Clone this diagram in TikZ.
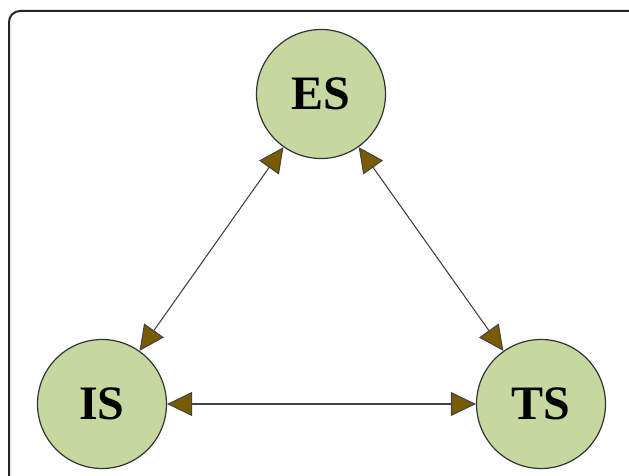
\documentclass[tikz,border=0pt]{standalone}
\usepackage{fontspec}
\setmainfont{Liberation Serif}
\usepackage{xcolor}
\usetikzlibrary{arrows.meta, positioning}
\definecolor{statefill}{HTML}{C4D8A0}
\definecolor{tipfill}{HTML}{7A5C00}
\definecolor{edgegray}{HTML}{444444}

\begin{document}
\begin{tikzpicture}[x=1pt, y=-1pt]

% Define styles for the nodes
\tikzstyle{state} = [circle, draw=black!80, line width=1.2pt, fill=statefill, minimum size=129pt, inner sep=0pt, font=\fontsize{48}{48}\selectfont\bfseries]
\tikzstyle{link} = [{Triangle[length=25pt, width=24pt, fill=tipfill]}-{Triangle[length=25pt, width=24pt, fill=tipfill]}, draw=edgegray, line width=1.1pt]

\useasboundingbox (0,0) rectangle (629,476);
\draw[black!85, line width=2pt, rounded corners=11pt] (9,11) rectangle (645,495);

% Nodes
\node (es) [state] at (321,94) {ES};
\node (is) [state] at (102,404) {IS};
\node (ts) [state] at (541,404) {TS};

% Arrows
\draw[link] (es) -- (is);
\draw[link] (es) -- (ts);
\draw[link] (is) -- (ts);

\end{tikzpicture}
\end{document}
